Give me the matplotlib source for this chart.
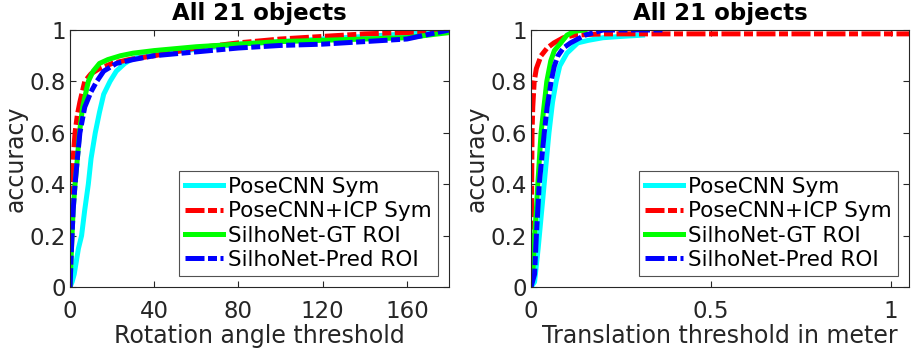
import matplotlib
matplotlib.use("Agg")
import matplotlib.pyplot as plt

LABELS = ["PoseCNN Sym", "PoseCNN+ICP Sym", "SilhoNet-GT ROI", "SilhoNet-Pred ROI"]
COLORS = ["#00ffff", "#ff0000", "#00ff00", "#0000ff"]
STYLES = ["-", (0, (3.8, 0.7, 1.8, 0.7)), "-", (0, (3.8, 0.7, 1.8, 0.7))]

# rotation angle threshold (deg) -> accuracy
rot_x = [
    [0, 1, 2, 3, 4, 5.5, 7, 8.7, 10, 12, 14, 16, 19, 22, 26, 30, 40, 60, 80, 100, 120, 140, 160, 180],
    [0, 0.3, 0.9, 1.5, 2.4, 3.5, 4.7, 7, 10, 14, 20, 28, 40, 60, 80, 100, 120, 140, 160, 180],
    [0, 0.7, 1.5, 2.4, 3.5, 4.5, 6, 8.7, 11, 14, 18, 24, 30, 40, 60, 80, 100, 120, 140, 160, 180],
    [0, 0.7, 1.5, 2.4, 3.5, 4.7, 7, 10, 12.7, 16, 22, 30, 40, 60, 80, 100, 120, 140, 160, 180],
]
rot_y = [
    [0, 0.02, 0.05, 0.1, 0.15, 0.2, 0.3, 0.4, 0.5, 0.6, 0.68, 0.75, 0.8, 0.84, 0.87, 0.89, 0.905, 0.925, 0.945, 0.955, 0.965, 0.975, 0.985, 1.0],
    [0, 0.2, 0.4, 0.5, 0.6, 0.67, 0.72, 0.8, 0.83, 0.85, 0.87, 0.885, 0.9, 0.93, 0.95, 0.965, 0.975, 0.985, 0.99, 0.99],
    [0, 0.15, 0.3, 0.4, 0.5, 0.6, 0.7, 0.8, 0.84, 0.87, 0.885, 0.9, 0.91, 0.92, 0.935, 0.945, 0.955, 0.96, 0.965, 0.97, 0.99],
    [0, 0.15, 0.3, 0.4, 0.5, 0.6, 0.7, 0.76, 0.8, 0.84, 0.87, 0.885, 0.9, 0.915, 0.93, 0.94, 0.945, 0.955, 0.965, 1.0],
]

# translation threshold (m) -> accuracy
tra_x = [
    [0, 0.01, 0.02, 0.03, 0.04, 0.05, 0.06, 0.07, 0.08, 0.1, 0.13, 0.16, 0.2, 0.25, 0.31],
    [0, 0.001, 0.002, 0.003, 0.005, 0.009, 0.015, 0.028, 0.045, 0.064, 0.09, 0.12, 0.2, 0.5, 0.8, 1.05],
    [0, 0.005, 0.01, 0.015, 0.019, 0.028, 0.036, 0.044, 0.055, 0.065, 0.083, 0.1, 0.12, 0.15],
    [0, 0.01, 0.015, 0.023, 0.03, 0.037, 0.045, 0.056, 0.065, 0.075, 0.09, 0.11, 0.15, 0.2, 0.28, 0.37],
]
tra_y = [
    [0, 0.02, 0.15, 0.3, 0.45, 0.6, 0.72, 0.8, 0.86, 0.91, 0.95, 0.96, 0.97, 0.975, 0.98],
    [0, 0.2, 0.4, 0.6, 0.7, 0.8, 0.85, 0.9, 0.93, 0.95, 0.97, 0.98, 0.985, 0.985, 0.985, 0.985],
    [0, 0.05, 0.2, 0.3, 0.4, 0.6, 0.7, 0.8, 0.88, 0.92, 0.95, 0.98, 0.995, 1.0],
    [0, 0.05, 0.2, 0.4, 0.5, 0.6, 0.7, 0.8, 0.86, 0.9, 0.93, 0.95, 0.98, 1.0, 1.0, 1.0],
]

TEXT = "#262626"
plt.rcParams["font.family"] = "DejaVu Sans"

fig = plt.figure(figsize=(9.21, 3.51), dpi=100)
ax1 = fig.add_axes([0.076, 0.182, 0.4115, 0.7325])
ax2 = fig.add_axes([0.5765, 0.182, 0.4105, 0.7325])


def draw(ax, xs, ys, xlim, xticks, xticklabels, xlabel):
    for x, y, c, ls, lab in zip(xs, ys, COLORS, STYLES, LABELS):
        ax.plot(x, y, color=c, ls=ls, lw=3.6, label=lab)
    ax.set_xlim(*xlim)
    ax.set_ylim(0, 1)
    ax.set_xticks(xticks)
    ax.set_xticklabels(xticklabels)
    ax.set_yticks([0, 0.2, 0.4, 0.6, 0.8, 1])
    ax.set_yticklabels(["0", "0.2", "0.4", "0.6", "0.8", "1"])
    ax.tick_params(direction="in", top=True, right=True, labelsize=16.5,
                   colors=TEXT, length=4, pad=3)
    ax.tick_params(axis="x", pad=9)
    for s in ax.spines.values():
        s.set_color("#262626")
        s.set_linewidth(0.8)
    ax.set_xlabel(xlabel, fontsize=17, color=TEXT, labelpad=1)
    ax.set_ylabel("accuracy", fontsize=17, color=TEXT, labelpad=1)
    ax.set_title("All 21 objects", fontsize=16.5, fontweight="bold", pad=7)
    leg = ax.legend(loc="lower right", fontsize=15.5, frameon=True, fancybox=False,
                    borderpad=0.3, labelspacing=0.2, handlelength=1.75,
                    handletextpad=0.25, borderaxespad=0.5)
    leg.get_frame().set_edgecolor("#262626")
    leg.get_frame().set_linewidth(0.8)


draw(ax1, rot_x, rot_y, (0, 180), [0, 40, 80, 120, 160],
     ["0", "40", "80", "120", "160"], "Rotation angle threshold")
draw(ax2, tra_x, tra_y, (0, 1.05), [0, 0.5, 1],
     ["0", "0.5", "1"], "Translation threshold in meter")

fig.savefig("out.png", dpi=100)
